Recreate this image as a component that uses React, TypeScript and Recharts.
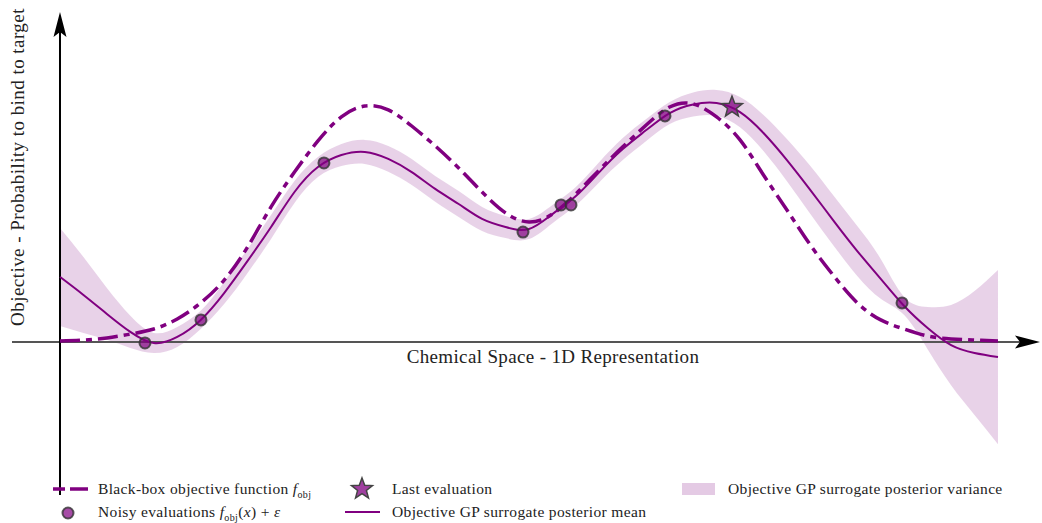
import React from 'react'
import { ComposedChart, Area, Line, Scatter, XAxis, YAxis, ReferenceLine } from 'recharts'

// chemical space grid (1D representation)
const gridX = [
  0, 2.5, 5, 7.5, 10, 12.5, 15, 17.5, 20, 22.5, 25, 27.5, 30, 32.5, 35, 37.5, 40, 42.5, 45, 47.5,
  50, 52.5, 55, 57.5, 60, 62.5, 65, 67.5, 70, 72.5, 75, 77.5, 80, 82.5, 85, 87.5, 90, 92.5, 95, 97.5, 100,
]

// true black-box objective
const blackBox = [
  0.004, 0.008, 0.017, 0.033, 0.054, 0.096, 0.163, 0.258, 0.396, 0.563, 0.708, 0.838, 0.938, 0.983,
  0.967, 0.9, 0.817, 0.725, 0.625, 0.538, 0.5, 0.533, 0.617, 0.717, 0.813, 0.904, 0.979, 0.992, 0.938,
  0.842, 0.696, 0.55, 0.404, 0.275, 0.163, 0.092, 0.054, 0.025, 0.013, 0.008, 0.004,
]

// GP surrogate posterior mean
const gpMean = [
  0.271, 0.196, 0.117, 0.042, -0.004, 0.021, 0.092, 0.204, 0.338, 0.479, 0.625, 0.729, 0.779, 0.792,
  0.763, 0.708, 0.638, 0.575, 0.513, 0.479, 0.471, 0.533, 0.608, 0.708, 0.804, 0.883, 0.954, 0.99, 0.996,
  0.958, 0.871, 0.758, 0.633, 0.504, 0.379, 0.263, 0.15, 0.058, -0.013, -0.046, -0.063,
]

// GP surrogate posterior spread (half width of the band)
const gpSpread = [
  0.204, 0.158, 0.108, 0.067, 0.042, 0.042, 0.038, 0.046, 0.05, 0.05, 0.046, 0.042, 0.046, 0.05,
  0.054, 0.054, 0.054, 0.054, 0.05, 0.046, 0.042, 0.038, 0.038, 0.042, 0.046, 0.046, 0.046, 0.05, 0.054,
  0.063, 0.075, 0.088, 0.1, 0.104, 0.104, 0.083, 0.038, 0.088, 0.167, 0.258, 0.363,
]

// noisy evaluations
const evalX = [9.06, 15.03, 28.14, 49.36, 53.41, 54.48, 64.5, 89.77]
const evalY = [-0.004, 0.092, 0.746, 0.458, 0.571, 0.571, 0.942, 0.163]

// last evaluation
const lastX = [71.64]
const lastY = [0.979]

const PURPLE = '#800080'
const BAND = '#e4cae4'
const FONT = '"Liberation Serif", "DejaVu Serif", serif'
const X_DOMAIN: [number, number] = [-5.117, 104.48]
const Y_DOMAIN: [number, number] = [-0.6375, 1.375]

const rows = gridX.map((x, i) => ({
  x,
  f: blackBox[i],
  mean: gpMean[i],
  band: [gpMean[i] - gpSpread[i], gpMean[i] + gpSpread[i]],
}))
const evalPoints = evalX.map((x, i) => ({ x, y: evalY[i] }))
const lastPoint = lastX.map((x, i) => ({ x, y: lastY[i] }))

function starPath(cx: number, cy: number, ro: number) {
  const ri = ro * 0.42
  const pts: string[] = []
  for (let k = 0; k < 10; k++) {
    const r = k % 2 === 0 ? ro : ri
    const a = -Math.PI / 2 + (k * Math.PI) / 5
    pts.push(`${cx + r * Math.cos(a)},${cy + r * Math.sin(a)}`)
  }
  return pts.join(' ')
}

// axis line with a stealth arrow at its second end
function ArrowAxis(props: any) {
  const { x1, y1, x2, y2, lineColor } = props
  const dx = x2 - x1
  const dy = y2 - y1
  const len = Math.sqrt(dx * dx + dy * dy) || 1
  const ux = dx / len
  const uy = dy / len
  const L = 25
  const W = 6.5
  const bx = x2 - ux * L
  const by = y2 - uy * L
  const nx = x2 - ux * (L - 5)
  const ny = y2 - uy * (L - 5)
  const head = `M${x2},${y2} L${bx - uy * W},${by + ux * W} L${nx},${ny} L${bx + uy * W},${by - ux * W} Z`
  return (
    <g>
      <line x1={x1} y1={y1} x2={x2 - ux * 10} y2={y2 - uy * 10} stroke={lineColor} strokeWidth={2} />
      <path d={head} fill="#000" />
    </g>
  )
}

const Dot = (p: any) => (
  <circle cx={p.cx} cy={p.cy} r={5.5} fill={PURPLE} fillOpacity={0.7} stroke="#333" strokeOpacity={0.8} strokeWidth={2} />
)

const Star = (p: any) => (
  <polygon points={starPath(p.cx, p.cy, 11)} fill={PURPLE} fillOpacity={0.75} stroke="#444" strokeWidth={1.5} />
)

const txt = (left: number, top: number, size: number, spacing = 0): React.CSSProperties => ({
  position: 'absolute',
  left,
  top,
  fontFamily: FONT,
  fontSize: size,
  letterSpacing: spacing,
  lineHeight: '18px',
  whiteSpace: 'nowrap',
  color: '#222',
})

export default function App() {
  return (
    <div style={{ position: 'absolute', left: 0, top: 0, width: 1042, height: 523, background: '#fff' }}>
      <ComposedChart width={1042} height={523} data={rows} margin={{ top: 12, right: 2, bottom: 28, left: 12 }}>
        <XAxis type="number" dataKey="x" domain={X_DOMAIN} allowDataOverflow hide />
        <YAxis type="number" domain={Y_DOMAIN} allowDataOverflow hide />
        <ReferenceLine
          segment={[{ x: X_DOMAIN[0], y: 0 }, { x: X_DOMAIN[1], y: 0 }]}
          ifOverflow="visible"
          shape={(p: any) => <ArrowAxis {...p} lineColor="#555" />}
        />
        <Area
          dataKey="band"
          type="natural"
          fill={BAND}
          fillOpacity={0.85}
          stroke="none"
          isAnimationActive={false}
        />
        <ReferenceLine
          segment={[{ x: 0, y: Y_DOMAIN[0] }, { x: 0, y: Y_DOMAIN[1] }]}
          ifOverflow="visible"
          shape={(p: any) => <ArrowAxis {...p} lineColor="#000" />}
        />
        <Line
          dataKey="f"
          type="natural"
          stroke={PURPLE}
          strokeWidth={3.5}
          strokeDasharray="20 6 6 6"
          dot={false}
          isAnimationActive={false}
        />
        <Line dataKey="mean" type="natural" stroke={PURPLE} strokeWidth={2} dot={false} isAnimationActive={false} />
        <Scatter data={evalPoints} dataKey="y" shape={Dot} isAnimationActive={false} />
        <Scatter data={lastPoint} dataKey="y" shape={Star} isAnimationActive={false} />
      </ComposedChart>

      {/* axis titles */}
      <div style={{ ...txt(553, 348, 19, 0.35), transform: 'translateX(-50%)' }}>Chemical Space - 1D Representation</div>
      <div
        style={{
          ...txt(18, 167, 19, 0.45),
          transform: 'translate(-50%, -50%) rotate(-90deg)',
        }}
      >
        Objective - Probability to bind to target
      </div>

      {/* legend */}
      <svg style={{ position: 'absolute', left: 0, top: 470 }} width={1042} height={53}>
        <line x1={53} y1={19} x2={88} y2={19} stroke={PURPLE} strokeWidth={3.5} strokeDasharray="12 5 18" />
        <polygon points={starPath(362, 19, 11)} fill={PURPLE} fillOpacity={0.75} stroke="#444" strokeWidth={1.5} />
        <rect x={682} y={13} width={33} height={12} fill={BAND} />
        <circle cx={68} cy={43} r={5.5} fill={PURPLE} fillOpacity={0.7} stroke="#333" strokeOpacity={0.8} strokeWidth={2} />
        <line x1={345} y1={42} x2={380} y2={42} stroke={PURPLE} strokeWidth={2} />
      </svg>
      <div style={txt(98, 480, 15.5, 0.35)}>
        Black-box objective function <i>f</i>
        <sub style={{ fontSize: 10 }}>obj</sub>
      </div>
      <div style={txt(392, 480, 15.5, 0.35)}>Last evaluation</div>
      <div style={txt(728, 480, 15.5, 0.35)}>Objective GP surrogate posterior variance</div>
      <div style={txt(98, 503, 15.5, 0.35)}>
        Noisy evaluations <i>f</i>
        <sub style={{ fontSize: 10 }}>obj</sub>(<i>x</i>) + <i>ε</i>
      </div>
      <div style={txt(392, 503, 15.5, 0.35)}>Objective GP surrogate posterior mean</div>
    </div>
  )
}
